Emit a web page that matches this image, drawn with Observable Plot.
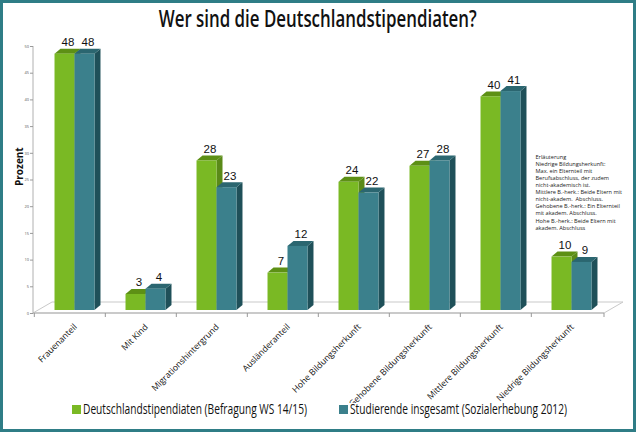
<!DOCTYPE html>
<html><head><meta charset="utf-8">
<script src="https://cdn.jsdelivr.net/npm/d3@7"></script>
<script src="https://cdn.jsdelivr.net/npm/@observablehq/plot@0.6"></script>
<style>
body{margin:0;background:#fff}
#c{position:relative;width:636px;height:432px;box-sizing:border-box;border:3px solid #2f7d86;background:#fff;overflow:hidden;font-family:"Open Sans",sans-serif}
#title{position:absolute;top:4px;left:0;width:630px;text-align:center;white-space:nowrap;line-height:23px;z-index:2}
#title span{display:inline-block;font-size:23px;font-weight:600;color:#111;transform-origin:center}
#chart{position:absolute;left:0;top:0}
.lg{position:absolute;top:399px;line-height:14px;font-size:14px;color:#111;white-space:nowrap}
.lg span{display:inline-block;transform-origin:left center}
.sw{position:absolute;top:402px;width:9px;height:9px}
</style></head>
<body>
<div id="c">
  <div id="chart"></div>
  <div id="title"><span>Wer sind die Deutschlandstipendiaten?</span></div>
  <div class="sw" id="sw0"></div><div class="lg" id="lg0"><span></span></div>
  <div class="sw" id="sw1"></div><div class="lg" id="lg1"><span></span></div>
</div>
<script>
const categories = ["Frauenanteil","Mit Kind","Migrationshintergrund","Ausländeranteil","Hohe Bildungsherkunft","Gehobene Bildungsherkunft","Mittlere Bildungsherkunft","Niedrige Bildungsherkunft"];
const stipendiaten = [48, 3, 28, 7, 24, 27, 40, 10];
const studierende  = [48, 4, 23, 12, 22, 28, 41, 9];
const seriesNames = ["Deutschlandstipendiaten (Befragung WS 14/15)", "Studierende insgesamt (Sozialerhebung 2012)"];
const yTicks = [0, 5, 10, 15, 20, 25, 30, 35, 40, 45, 50];
const yLabel = "Prozent";
const noteLines = ["Erläuterung","Niedrige Bildungsherkunft:","Max. ein Elternteil mit","Berufsabschluss, der zudem","nicht-akademisch ist.","Mittlere B.-herk.: Beide Eltern mit","nicht-akadem.  Abschluss.","Gehobene B.-herk.: Ein Elternteil","mit akadem. Abschluss.","Hohe B.-herk.: Beide Eltern mit","akadem. Abschluss"];

const frontCol = ["#7ab924", "#3b808c"];
const topCol   = ["#5d9015", "#2b6670"];
const sideCol  = ["#5a8a18", "#1f5059"];

const PAD_IN = 0.44, PAD_OUT = 0.22;

const series = [stipendiaten, studierende];
const rows = categories.flatMap((c, i) => series.map((vals, s) => ({cat: c, s, v: vals[i]})));
const rows0 = rows.filter(r => r.s === 0);
const rows1 = rows.filter(r => r.s === 1);

// 3D geometry offsets (style)
const OX = 4.5, OY = -3, EX = 6, EY = -5, FX = 19, FY = -11;

// band geometry derived from the plot's x scale and frame
function bandInfo(x, dims) {
  const r0 = dims.marginLeft, r1 = dims.width - dims.marginRight;
  const n = categories.length;
  const step = (r1 - r0) / (n - PAD_IN + 2 * PAD_OUT);
  const bw = step * (1 - PAD_IN);
  let bwS = x.bandwidth ? +x.bandwidth() : 0;
  const start = c => (bwS > 1 ? x(c) : x(c) - bw / 2);
  return {r: [r0, r1], bw, step, start};
}

function floorMark(index, scales, values, dims) {
  const {x, y} = scales;
  const {r, step, start, bw} = bandInfo(x, dims);
  const y0 = y(0);
  const g = d3.create("svg:g").attr("fill", "none").attr("stroke", "#c9c9c9").attr("stroke-width", 1);
  g.append("path").attr("fill", "#fff")
    .attr("d", `M${r[0]},${y0}L${r[0]+FX},${y0+FY}L${r[1]+FX},${y0+FY}L${r[1]},${y0}Z`);
  g.append("path").attr("stroke", "#b0b0b0")
    .attr("d", `M${r[0]},${y(50)}L${r[0]},${y0}L${r[1]},${y0}`);
  const bounds = categories.map(c => start(c) - (step - bw) / 2);
  bounds.push(r[1]);
  for (const xb of bounds) {
    g.append("line").attr("stroke", "#999").attr("x1", xb).attr("x2", xb).attr("y1", y0).attr("y2", y0 + 4);
  }
  return g.node();
}

function bars3d(index, scales, values, dims) {
  const {x, y} = scales;
  const {bw, start} = bandInfo(x, dims);
  const w = bw / 2;
  const g = d3.create("svg:g");
  for (const r of rows) {
    const x0 = start(r.cat) + r.s * w + OX, x1 = x0 + w;
    const yb = y(0) + OY, yt = y(r.v) + OY;
    g.append("path").attr("fill", sideCol[r.s])
      .attr("d", `M${x1},${yt}L${x1+EX},${yt+EY}L${x1+EX},${yb+EY}L${x1},${yb}Z`);
    g.append("path").attr("fill", topCol[r.s])
      .attr("d", `M${x0},${yt}L${x0+EX},${yt+EY}L${x1+EX},${yt+EY}L${x1},${yt}Z`);
    g.append("rect").attr("fill", frontCol[r.s])
      .attr("x", x0).attr("y", yt).attr("width", w).attr("height", yb - yt);
  }
  return g.node();
}

const chart = Plot.plot({
  width: 630, height: 400,
  marginTop: 43, marginBottom: 90, marginLeft: 30, marginRight: 29,
  style: {background: "transparent", fontFamily: "'Open Sans', sans-serif", color: "#111"},
  x: {domain: categories, paddingInner: PAD_IN, paddingOuter: PAD_OUT, label: null},
  y: {domain: [0, 50], label: null},
  marks: [
    floorMark,
    Plot.axisY({ticks: yTicks, tickSize: 3, tickPadding: 1.5, fontSize: 4, stroke: "#999", fill: "#555", label: null}),
    Plot.axisX({tickRotate: -45, tickSize: 0, tickPadding: 12, fontSize: 8.6, dx: 5, label: null, fill: "#111"}),
    bars3d,
    Plot.text(rows0, {x: "cat", y: "v", text: d => String(d.v), dx: -2.5, dy: -11, lineAnchor: "bottom", fontSize: 11.5, fontFamily: "'Liberation Sans', Arial, sans-serif", fill: "#111"}),
    Plot.text(rows1, {x: "cat", y: "v", text: d => String(d.v), dx: 17.5, dy: -11, lineAnchor: "bottom", fontSize: 11.5, fontFamily: "'Liberation Sans', Arial, sans-serif", fill: "#111"}),
    Plot.text([yLabel], {frameAnchor: "left", rotate: -90, dx: -14, dy: 6, fontWeight: "bold", fontSize: 10, fill: "#111"}),
    Plot.text([noteLines.join("\n")], {frameAnchor: "top-right", textAnchor: "start", lineAnchor: "top", dx: -69, dy: 107, fontSize: 5.6, lineHeight: 1.27, fill: "#222"})
  ]
});
document.getElementById("chart").appendChild(chart);

// legend
const lgX = [[69, 80], [336, 347]];
const lgW = [224, 217];
seriesNames.forEach((name, i) => {
  const sw = document.getElementById("sw" + i);
  sw.style.left = lgX[i][0] + "px"; sw.style.background = frontCol[i];
  const lg = document.getElementById("lg" + i);
  lg.style.left = lgX[i][1] + "px";
  const sp = lg.querySelector("span");
  sp.textContent = name;
  const wAct = sp.getBoundingClientRect().width;
  sp.style.transform = `scaleX(${lgW[i] / wAct})`;
});
const ts = document.querySelector("#title span");
const tw = ts.getBoundingClientRect().width;
ts.style.transform = `scaleX(${318 / tw})`;
</script>
</body></html>
